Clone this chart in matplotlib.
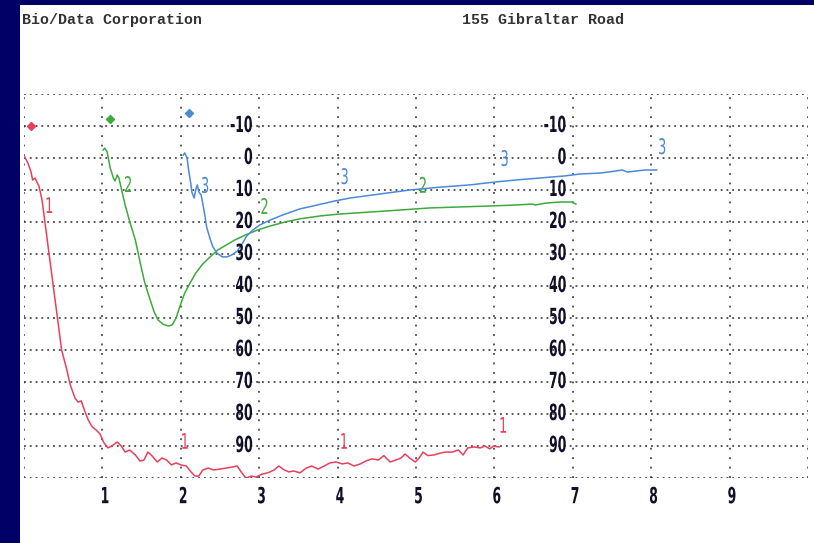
import matplotlib
matplotlib.use("Agg")
import matplotlib.pyplot as plt
from matplotlib.patches import Rectangle
from matplotlib.patheffects import AbstractPathEffect
from matplotlib.transforms import Affine2D

# --- data -------------------------------------------------------------
red_x = [0.01, 0.05, 0.09, 0.11, 0.14, 0.17, 0.19, 0.23, 0.28, 0.33, 0.38, 0.43, 0.48,
         0.54, 0.59, 0.65, 0.69, 0.73, 0.77, 0.82, 0.87, 0.92, 0.97, 1.02, 1.07, 1.12,
         1.19, 1.24, 1.29, 1.35, 1.42, 1.48, 1.53, 1.58, 1.63, 1.70, 1.76, 1.82, 1.88,
         1.94, 2.00, 2.07, 2.12, 2.18, 2.23, 2.28, 2.35, 2.42, 2.50, 2.58, 2.65, 2.72,
         2.77, 2.83, 2.90, 2.96, 3.04, 3.11, 3.19, 3.25, 3.32, 3.38, 3.44, 3.52, 3.60,
         3.67, 3.75, 3.83, 3.90, 3.98, 4.06, 4.13, 4.21, 4.29, 4.36, 4.44, 4.52, 4.59,
         4.67, 4.74, 4.81, 4.86, 4.92, 4.99, 5.04, 5.09, 5.15, 5.23, 5.31, 5.38, 5.46,
         5.54, 5.60, 5.66, 5.74, 5.82, 5.88, 5.94, 5.99, 6.06]
red_y = [-0.3, 1.6, 4.4, 6.9, 6.25, 7.8, 8.75, 13.1, 22.5, 31.9, 41.3, 50.6, 60.0,
         65.6, 70.9, 75.0, 76.3, 75.9, 78.75, 81.9, 84.0, 85.0, 86.25, 89.0, 90.6, 90.0,
         88.75, 90.0, 91.9, 91.25, 92.8, 94.7, 94.4, 91.9, 93.0, 95.0, 93.75, 94.4, 95.9,
         95.3, 95.9, 96.25, 97.8, 99.4, 99.4, 97.5, 96.9, 97.5, 97.2, 96.9, 96.6, 96.25,
         98.1, 100.0, 99.4, 99.7, 98.75, 98.4, 97.5, 96.25, 97.5, 98.1, 97.8, 98.4, 96.9,
         96.25, 97.2, 96.25, 95.3, 95.0, 95.6, 95.3, 96.25, 95.6, 94.7, 94.0, 94.4, 93.0,
         95.0, 94.4, 93.75, 92.5, 93.75, 95.0, 93.75, 91.9, 93.0, 92.8, 92.2, 91.9, 91.9,
         91.25, 92.8, 90.6, 90.3, 90.6, 90.0, 90.9, 90.0, 90.3]

green_x = [1.01, 1.03, 1.06, 1.10, 1.14, 1.16, 1.19, 1.21, 1.24, 1.29, 1.35, 1.42, 1.48,
           1.54, 1.61, 1.66, 1.71, 1.77, 1.84, 1.89, 1.94, 1.99, 2.05, 2.12, 2.19, 2.28,
           2.37, 2.47, 2.58, 2.69, 2.82, 2.98, 3.14, 3.33, 3.52, 3.78, 4.03, 4.41, 4.80,
           5.18, 5.56, 5.94, 6.26, 6.49, 6.52, 6.65, 6.84, 6.99, 7.04]
green_y = [-2.5, -3.1, -1.9, 3.1, 6.25, 7.2, 5.3, 6.25, 9.4, 14.7, 20.0, 25.6, 32.5,
           39.0, 44.4, 48.1, 50.6, 51.9, 52.5, 52.2, 50.0, 46.25, 42.2, 39.0, 36.0, 33.1,
           31.0, 28.75, 27.2, 25.6, 24.1, 22.5, 21.25, 20.0, 19.0, 18.1, 17.5, 16.9, 16.25,
           15.6, 15.3, 15.0, 14.7, 14.4, 14.7, 14.1, 13.75, 13.75, 14.4]

blue_x = [2.03, 2.05, 2.08, 2.10, 2.13, 2.14, 2.17, 2.19, 2.21, 2.23, 2.26, 2.30, 2.33,
          2.37, 2.41, 2.46, 2.53, 2.59, 2.65, 2.72, 2.78, 2.84, 2.92, 3.01, 3.14, 3.30,
          3.52, 3.74, 3.97, 4.16, 4.54, 4.92, 5.31, 5.69, 6.01, 6.26, 6.58, 6.90, 7.09,
          7.35, 7.54, 7.63, 7.70, 7.79, 7.92, 8.07]
blue_y = [-0.9, -1.6, 0.0, 3.75, 8.4, 10.6, 12.5, 10.0, 8.4, 10.6, 11.6, 16.9, 21.6,
          25.0, 27.8, 29.7, 30.9, 30.9, 30.3, 29.1, 26.9, 24.4, 22.5, 20.9, 19.4, 17.8,
          15.9, 14.7, 13.4, 12.5, 11.25, 10.0, 9.1, 8.4, 7.5, 6.9, 6.25, 5.6, 5.0,
          4.7, 4.1, 3.75, 4.4, 4.1, 3.75, 3.75]

# start markers (x, y) for each trace
marker_pts = {"1": (0.09, -10.0), "2": (1.10, -12.2), "3": (2.10, -14.0)}

# trace number labels placed along each trace
red_labels = [(0.32, 15.3), (2.05, 89.0), (4.08, 89.0), (6.11, 84.0)]
green_labels = [(1.33, 8.75), (3.07, 15.6), (5.09, 9.0)]
blue_labels = [(2.31, 9.0), (4.09, 6.25), (6.13, 0.6), (8.14, -3.1)]

x_tick_vals = [1, 2, 3, 4, 5, 6, 7, 8, 9]
y_tick_vals = [-10, 0, 10, 20, 30, 40, 50, 60, 70, 80, 90]
y_label_cols = [3, 7]

header_left = "Bio/Data Corporation"
header_right = "155 Gibraltar Road"


class Narrow(AbstractPathEffect):
    """Draw text glyphs compressed horizontally about a fixed edge."""

    def __init__(self, sx=0.6, pivot="center"):
        super().__init__()
        self.sx = sx
        self.pivot = pivot

    def draw_path(self, renderer, gc, tpath, affine, rgbFace=None):
        ext = affine.transform_path(tpath).get_extents()
        if self.pivot == "right":
            p = ext.x1
        elif self.pivot == "left":
            p = ext.x0
        else:
            p = 0.5 * (ext.x0 + ext.x1)
        squeeze = Affine2D().translate(-p, 0).scale(self.sx, 1).translate(p, 0)
        renderer.draw_path(gc, tpath, affine + squeeze, rgbFace)


# --- styling ----------------------------------------------------------
RED = "#e8405c"
GREEN = "#3caa3c"
BLUE = "#4a8ad8"
NAVY = "#000066"
INK = "#101028"
MONO = ["Liberation Mono", "DejaVu Sans Mono"]

W, H = 814, 543
fig = plt.figure(figsize=(W / 100, H / 100), dpi=100, facecolor="white")

# navy frame on left and top edges
fig.patches.append(Rectangle((0, 0), 20 / W, 1, transform=fig.transFigure,
                             facecolor=NAVY, edgecolor="none", zorder=0))
fig.patches.append(Rectangle((0, 1 - 5 / H), 1, 5 / H, transform=fig.transFigure,
                             facecolor=NAVY, edgecolor="none", zorder=0))

fig.text(22 / W, 1 - 20 / H, header_left, family=MONO, weight="bold",
         fontsize=10.8, color="#333333", ha="left", va="center")
fig.text(462 / W, 1 - 20 / H, header_right, family=MONO, weight="bold",
         fontsize=10.8, color="#333333", ha="left", va="center")

ax = fig.add_axes([24 / W, (H - 478) / H, 784 / W, 384 / H])
ax.set_xlim(0, 10)
ax.set_ylim(100, -20)
ax.set_axis_off()

# dotted grid, including the outer border lines
for gx in range(0, 11):
    ax.axvline(gx, color="#2a2a2a", lw=1.1, ls=(0, (1.2, 5)), zorder=1)
for gy in range(-20, 101, 10):
    ax.axhline(gy, color="#2a2a2a", lw=1.1, ls=(0, (1.2, 2.6)), zorder=1)

# traces
ax.plot(red_x, red_y, color=RED, lw=1.1, zorder=3)
ax.plot(green_x, green_y, color=GREEN, lw=1.1, zorder=3)
ax.plot(blue_x, blue_y, color=BLUE, lw=1.1, zorder=3)

for key, col in (("1", RED), ("2", GREEN), ("3", BLUE)):
    mx, my = marker_pts[key]
    ax.plot([mx], [my], marker="D", ms=4.5, color=col, mec=col, zorder=4)

trace_labels = ((red_labels, "1", RED), (green_labels, "2", GREEN),
                (blue_labels, "3", BLUE))
for pts, s, col in trace_labels:
    for (lx, ly) in pts:
        ax.text(lx, ly, s, color=col, family="DejaVu Sans", fontsize=15.5,
                ha="center", va="center", zorder=5,
                path_effects=[Narrow(0.6, "center")])

# value scales drawn inside the plot next to two vertical grid lines
for col in y_label_cols:
    for v in y_tick_vals:
        ax.text(col - 0.075, v, f"{v}", color=INK, family="DejaVu Sans",
                weight="bold", fontsize=16, ha="right", va="center", zorder=5,
                path_effects=[Narrow(0.56, "right")])

for v in x_tick_vals:
    ax.text(v + 0.03, 106, f"{v}", color=INK, family="DejaVu Sans",
            weight="bold", fontsize=16, ha="center", va="center",
            clip_on=False, zorder=5, path_effects=[Narrow(0.56, "center")])

fig.savefig("out.png", dpi=100, facecolor="white")
